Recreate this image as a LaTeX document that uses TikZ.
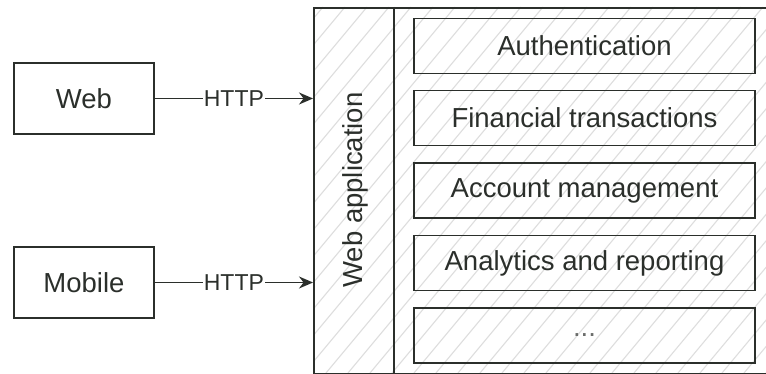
\documentclass[tikz,border=0pt]{standalone}
\usepackage{fontspec}
\setmainfont{Liberation Sans}
\usetikzlibrary{arrows.meta}
\definecolor{ink}{HTML}{2B2F2B}
\definecolor{hatch}{HTML}{DEDEDE}
\tikzset{
  box/.style={draw=ink, line width=1.6pt, text=ink, font=\fontsize{27.5}{30}\selectfont, inner sep=0pt},
  clientbox/.style={box, fill=white, minimum width=140pt, minimum height=71pt},
  modbox/.style={box, minimum width=341pt, minimum height=55pt},
  link/.style={draw=ink, line width=1.6pt, -{Stealth[length=14pt,width=12pt]}},
  linklabel/.style={fill=white, text=ink, font=\fontsize{23}{25}\selectfont, inner sep=1pt}
}
\begin{document}
\begin{tikzpicture}[x=1pt,y=-1pt]
\useasboundingbox (0,0) rectangle (766,374);
\fill[white] (0,0) rectangle (766,374);
% hatch
\begin{scope}
  \clip (313,7) rectangle (780,373);
  \foreach \x in {-400,-378,...,780}{
    \draw[hatch, line width=1.1pt] (\x,373) -- (\x+305,7);
  }
\end{scope}
\node[box, anchor=north west, minimum width=470pt, minimum height=366pt] (app) at (313,7) {};
\coordinate (divtop) at (394,7);
\coordinate (divbot) at (394,373);
\draw[draw=ink, line width=1.6pt] (divtop) -- (divbot);
\node[rotate=90, text=ink, font=\fontsize{27.5}{30}\selectfont] (applbl) at (355,190) {Web application};

\node[modbox] (auth) at (584.5,46) {Authentication};
\node[modbox] (fin) at (584.5,118) {Financial transactions};
\node[modbox] (acct) at (584.5,190.5) {Account management};
\node[modbox] (anal) at (584.5,263) {Analytics and reporting};
\node[modbox, text=ink!70] (more) at (584.5,335.5) {...};

\node[clientbox] (web) at (84,98.5) {Web};
\node[clientbox] (mobile) at (84,282.5) {Mobile};

\coordinate (webin) at (app.west |- web.east);
\coordinate (mobin) at (app.west |- mobile.east);
\draw[link] (web.east) -- node[linklabel] {HTTP} (webin);
\draw[link] (mobile.east) -- node[linklabel] {HTTP} (mobin);
\end{tikzpicture}
\end{document}
